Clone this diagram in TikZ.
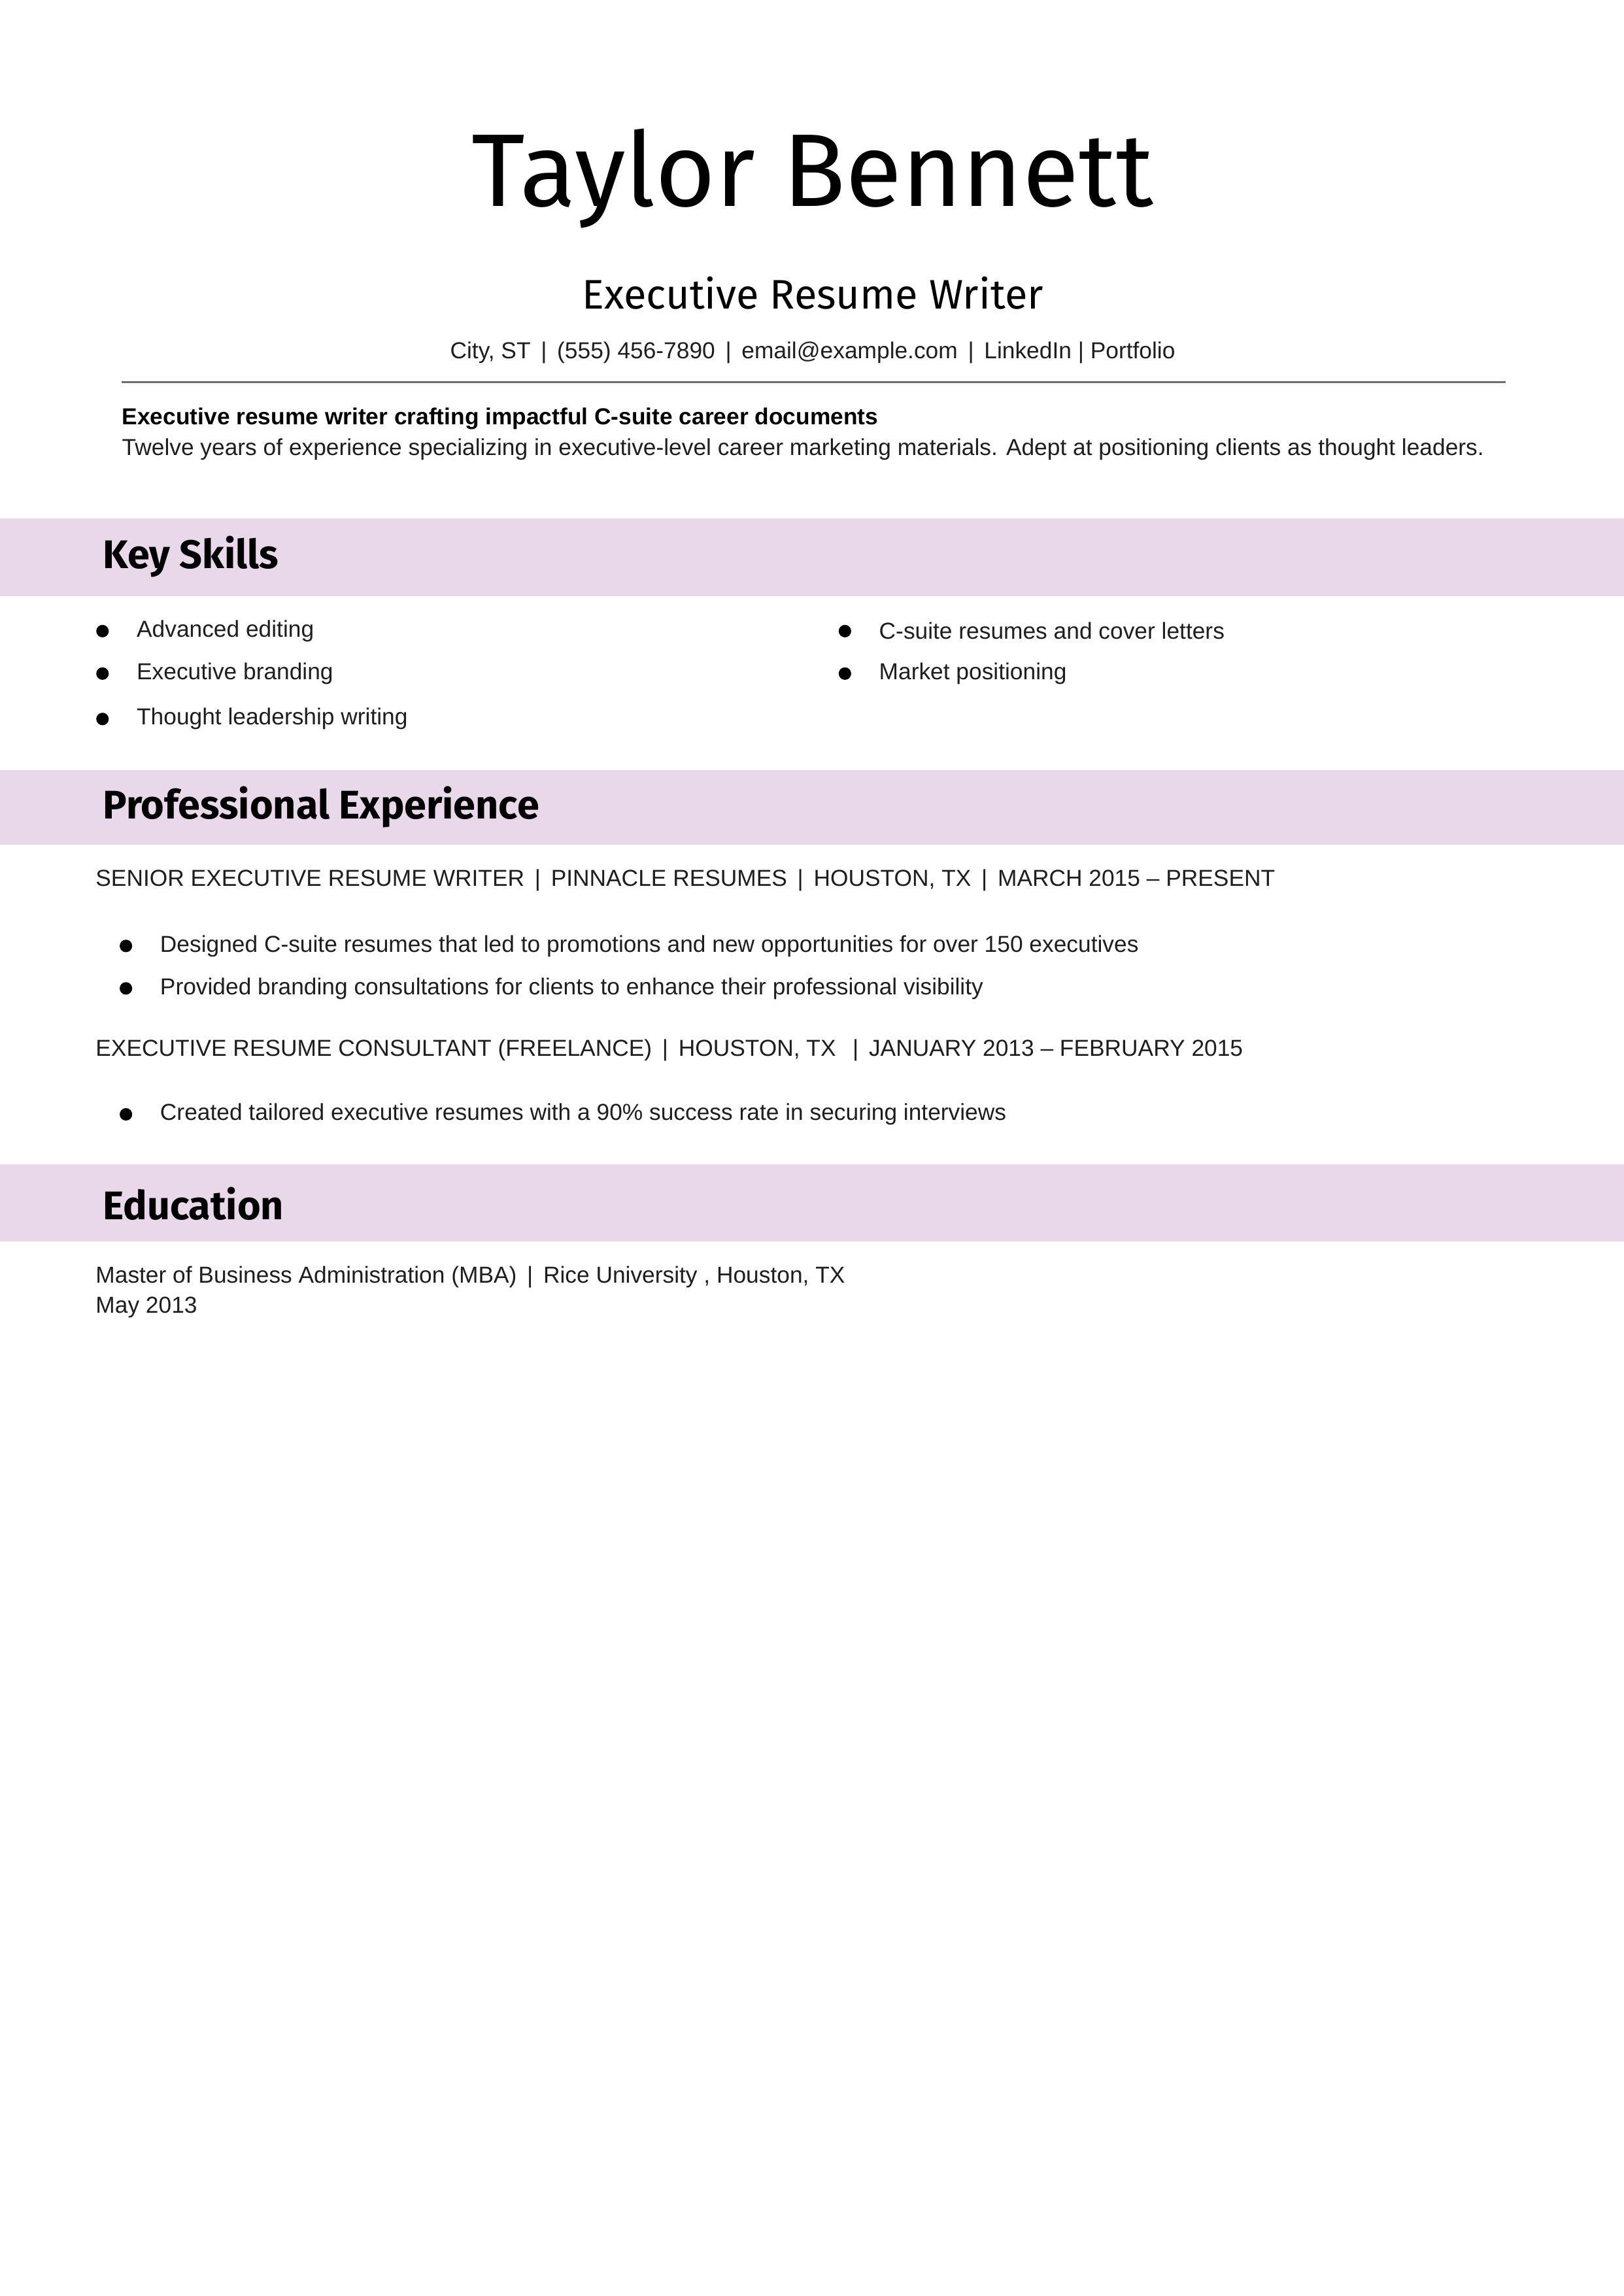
\documentclass[tikz,border=0pt]{standalone}
\usepackage{fontspec}
\setmainfont{Liberation Sans}
\newfontfamily\headfont{Fira Sans}
\usepackage{xcolor}
\definecolor{bandlilac}{RGB}{232,216,234}
\definecolor{rulegray}{RGB}{110,110,110}
\definecolor{bodyink}{RGB}{30,30,30}
\tikzset{
  band/.style={fill=bandlilac, draw=none},
  bandtitle/.style={anchor=west, inner sep=0pt, font=\headfont\fontsize{14.7}{18}\selectfont\bfseries},
  body/.style={anchor=west, inner sep=0pt, text=bodyink, font=\fontsize{8.5}{10}\selectfont},
  dot/.style={circle, fill=black, inner sep=0pt, minimum size=4.6pt}
}
\begin{document}
\begin{tikzpicture}[x=0.018937cm, y=-0.018937cm]
  \useasboundingbox (0,0) rectangle (1109,1568);

  % header
  \node[font=\headfont\fontsize{38}{42}\selectfont, inner sep=0pt] (name) at (555,122) {Taylor Bennett};
  \node[font=\headfont\fontsize{15.2}{18}\selectfont, inner sep=0pt] (title) at (555,200) {Executive Resume Writer};
  \node[body, anchor=center] (contact) at (555,241)
    {City, ST \,|\, (555) 456-7890 \,|\, email@example.com \,|\, LinkedIn | Portfolio};
  \draw[rulegray, line width=0.8pt] (83,261) coordinate (rl) -- (1028,261) coordinate (rr);

  % summary
  \node[body, font=\fontsize{8.5}{10}\selectfont\bfseries, text=black] (sumhead) at (83,286)
    {Executive resume writer crafting impactful C-suite career documents};
  \node[body] (sumtext) at (83,307)
    {Twelve years of experience specializing in executive-level career marketing materials. Adept at positioning clients as thought leaders.};

  % key skills
  \fill[band] (0,354) rectangle (1109,407);
  \node[bandtitle] (skills) at (70,380) {Key Skills};
  \foreach \t [count=\i] in {Advanced editing, Executive branding, Thought leadership writing} {
    \pgfmathsetmacro\yy{ifthenelse(\i==3,491,431+29*(\i-1))}
    \node[dot] (sd\i) at (70,\yy) {};
    \node[body] (st\i) at (93,\yy) {\t};
  }
  \foreach \t [count=\i] in {C-suite resumes and cover letters, Market positioning} {
    \node[dot] (sdb\i) at (577,431+29*\i-29) {};
    \node[body] (stb\i) at (600,431+29*\i-29) {\t};
  }

  % experience
  \fill[band] (0,526) rectangle (1109,577);
  \node[bandtitle] (exp) at (70,551) {Professional Experience};
  \node[body] (job1) at (65,601)
    {SENIOR EXECUTIVE RESUME WRITER \,|\, PINNACLE RESUMES \,|\, HOUSTON, TX \,|\, MARCH 2015 -- PRESENT};
  \node[dot] (jd1) at (86,646) {};
  \node[body] (jt1) at (109,646) {Designed C-suite resumes that led to promotions and new opportunities for over 150 executives};
  \node[dot] (jd2) at (86,675) {};
  \node[body] (jt2) at (109,675) {Provided branding consultations for clients to enhance their professional visibility};
  \node[body] (job2) at (65,717)
    {EXECUTIVE RESUME CONSULTANT (FREELANCE) \,|\, HOUSTON, TX \;\,|\, JANUARY 2013 -- FEBRUARY 2015};
  \node[dot] (jd3) at (86,761) {};
  \node[body] (jt3) at (109,761) {Created tailored executive resumes with a 90\% success rate in securing interviews};

  % education
  \fill[band] (0,795) rectangle (1109,848);
  \node[bandtitle] (edu) at (70,822) {Education};
  \node[body] (degree) at (65,872) {Master of Business Administration (MBA) \,|\, Rice University , Houston, TX};
  \node[body] (date) at (65,893) {May 2013};
\end{tikzpicture}
\end{document}
